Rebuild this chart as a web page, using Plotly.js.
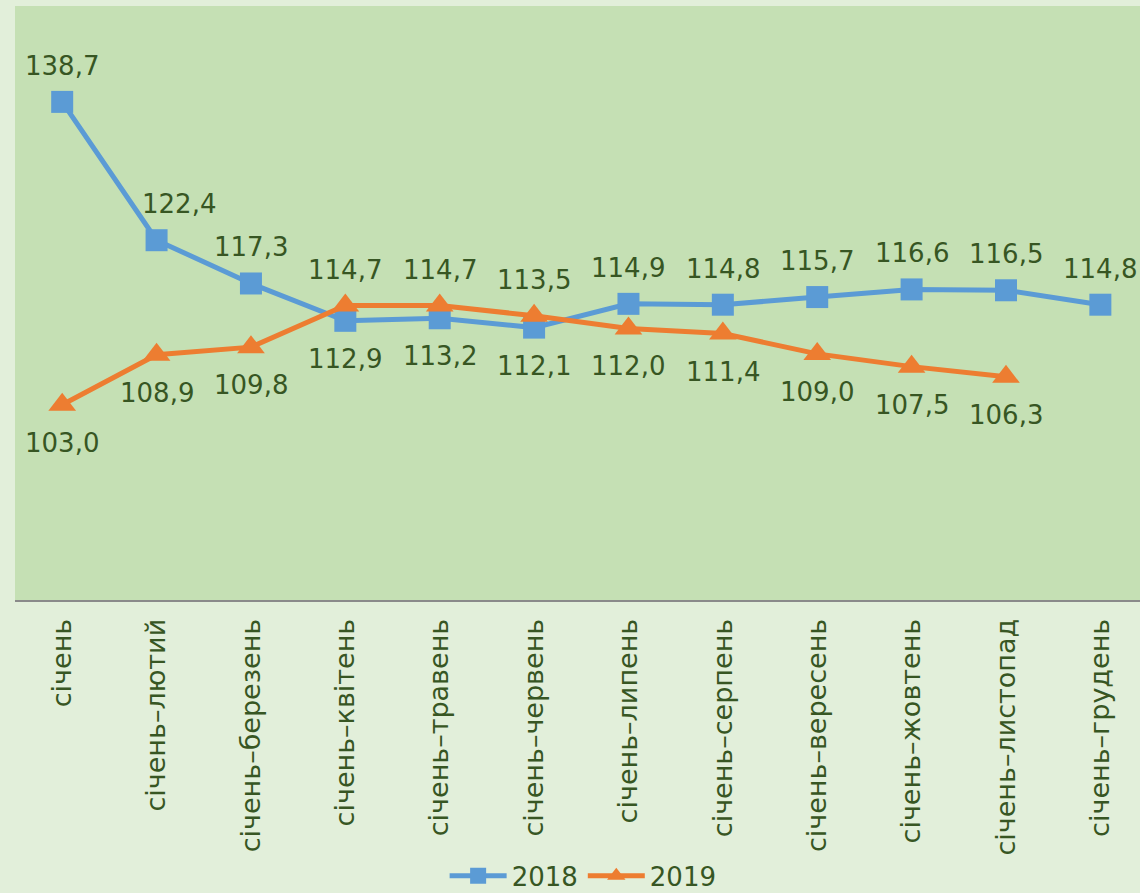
<!DOCTYPE html>
<html>
<head>
<meta charset="utf-8">
<script src="https://cdn.plot.ly/plotly-3.0.1.min.js"></script>
<style>
  html, body { margin: 0; padding: 0; background: #e2efda; overflow: hidden; }
  #chart { width: 1140px; height: 910px; }
</style>
</head>
<body>
<div id="chart"></div>
<script>
const categories = [
  "січень", "січень–лютий", "січень–березень", "січень–квітень",
  "січень–травень", "січень–червень", "січень–липень", "січень–серпень",
  "січень–вересень", "січень–жовтень", "січень–листопад", "січень–грудень"
];
const values2018 = [138.7, 122.4, 117.3, 112.9, 113.2, 112.1, 114.9, 114.8, 115.7, 116.6, 116.5, 114.8];
const values2019 = [103.0, 108.9, 109.8, 114.7, 114.7, 113.5, 112.0, 111.4, 109.0, 107.5, 106.3, null];
const seriesNames = ["2018", "2019"];

const textColor = "#375623";
const fontFam = "DejaVu Sans, Verdana, sans-serif";
const colors = ["#5b9bd5", "#ed7d31"];
const symbols = ["square", "triangle-up"];
const markerSizes = [22, 24];

const traces = [values2018, values2019].map((vals, k) => ({
  type: "scatter",
  mode: "lines+markers",
  name: seriesNames[k],
  x: categories,
  y: vals,
  line: { color: colors[k], width: 5 },
  marker: { symbol: symbols[k], size: markerSizes[k], color: colors[k] },
  connectgaps: false,
  hoverinfo: "skip"
}));

// label placement: the higher of the two series gets its label above
const fmt = v => v.toFixed(1).replace(".", ",");
const nudge = { "0-1": 22 };
const annotations = [];
[values2018, values2019].forEach((vals, k) => {
  const other = k === 0 ? values2019 : values2018;
  vals.forEach((v, i) => {
    if (v === null) return;
    const o = other[i];
    const above = (o === null || o === undefined) ? true : v > o;
    annotations.push({
      x: categories[i], y: v, xref: "x", yref: "y",
      text: fmt(v), showarrow: false,
      yshift: above ? 36 : -38,
      xshift: nudge[k + "-" + i] || 0,
      font: { family: fontFam, size: 26, color: textColor }
    });
  });
});

const layout = {
  width: 1140, height: 910,
  paper_bgcolor: "#e2efda",
  plot_bgcolor: "#c5e0b4",
  margin: { l: 15, r: 0, t: 6, b: 310, pad: 0 },
  showlegend: true,
  legend: {
    orientation: "h", x: 0.505, xanchor: "center", xref: "paper",
    y: -0.4646, yanchor: "middle",
    font: { family: fontFam, size: 26, color: textColor },
    itemwidth: 57, bgcolor: "rgba(0,0,0,0)"
  },
  xaxis: {
    type: "category",
    range: [-0.5, 11.42],
    showline: true, linecolor: "#8a8a8a", linewidth: 2,
    showgrid: false, zeroline: false, ticks: "",
    tickangle: -90,
    ticklabelstandoff: 6,
    tickfont: { family: fontFam, size: 27, color: textColor },
    fixedrange: true
  },
  yaxis: {
    range: [80, 150], visible: false, showgrid: false, zeroline: false, fixedrange: true
  },
  annotations: annotations
};

Plotly.newPlot("chart", traces, layout, { staticPlot: true, displayModeBar: false });
</script>
</body>
</html>
